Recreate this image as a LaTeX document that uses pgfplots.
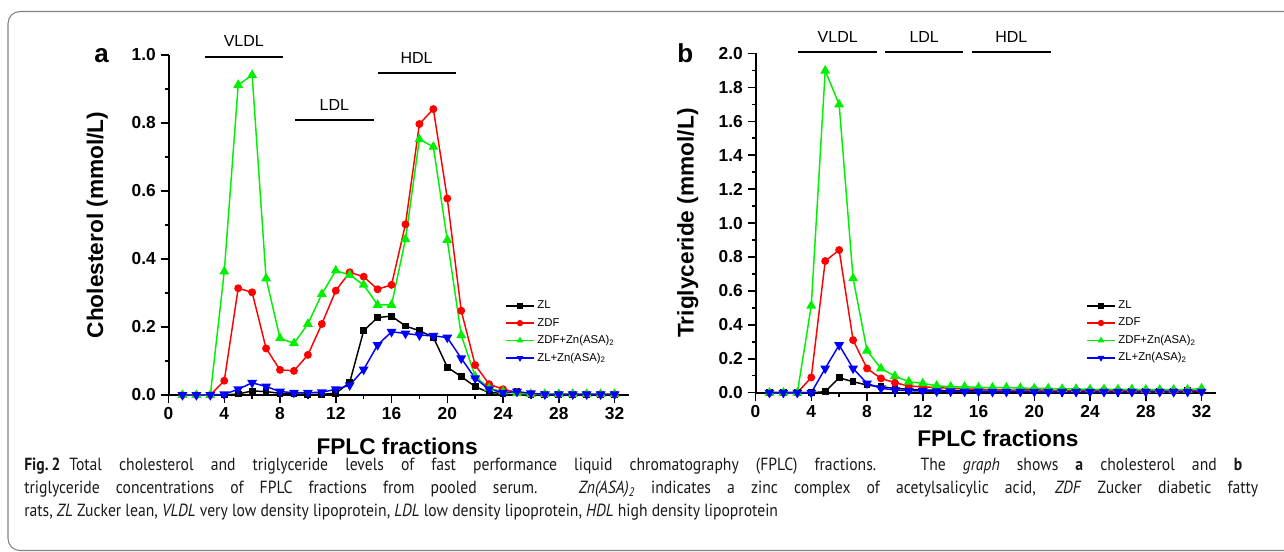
\documentclass[border=0pt]{standalone}
\usepackage{fontspec}
\setmainfont{Liberation Sans}
\newfontfamily\capfont[FakeStretch=0.89]{PT Sans}
\usepackage{pgfplots}
\usepackage{pgfplotstable}
\pgfplotsset{compat=1.18}

\definecolor{cgreen}{RGB}{0,240,0}
\definecolor{cred}{RGB}{255,0,0}
\definecolor{cblue}{RGB}{0,0,255}
\definecolor{framegray}{RGB}{130,130,130}

% cholesterol, fractions 1..32
\pgfplotstableread{
f  zl    zdf   zdfzn zlzn
1  0     0     0     0
2  0     0     0     0
3  0     0     0     0
4  0     0.042 0.363 0.002
5  0.003 0.314 0.912 0.017
6  0.012 0.302 0.941 0.036
7  0.010 0.137 0.343 0.025
8  0.005 0.074 0.167 0.010
9  0.003 0.071 0.152 0.007
10 0.002 0.118 0.209 0.007
11 0.002 0.209 0.297 0.008
12 0.005 0.307 0.366 0.017
13 0.037 0.361 0.353 0.029
14 0.189 0.348 0.324 0.075
15 0.228 0.311 0.265 0.147
16 0.232 0.324 0.265 0.186
17 0.203 0.502 0.458 0.181
18 0.189 0.797 0.752 0.176
19 0.170 0.841 0.730 0.174
20 0.082 0.578 0.456 0.169
21 0.054 0.248 0.176 0.108
22 0.025 0.088 0.055 0.049
23 0.007 0.032 0.020 0.017
24 0.005 0.017 0.010 0.007
25 0.010 0.008 0.005 0.010
26 0.001 0.002 0.003 0.005
27 0.001 0.002 0.003 0.002
28 0.001 0.002 0.003 0.002
29 0.001 0.002 0.003 0.002
30 0.001 0.002 0.003 0.002
31 0.001 0.002 0.003 0.002
32 0.001 0.002 0.003 0.002
}\choltab

% triglyceride, fractions 1..32
\pgfplotstableread{
f  zl    zdf   zdfzn zlzn
1  0     0     0     0
2  0     0     0     0
3  0     0     0     0
4  0     0.090 0.513 0
5  0.006 0.776 1.898 0.143
6  0.088 0.841 1.699 0.281
7  0.065 0.310 0.674 0.143
8  0.045 0.143 0.248 0.055
9  0.035 0.084 0.143 0.026
10 0.026 0.059 0.098 0.016
11 0.020 0.039 0.065 0.012
12 0.016 0.035 0.055 0.010
13 0.014 0.030 0.041 0.008
14 0.012 0.026 0.035 0.008
15 0.012 0.022 0.035 0.007
16 0.010 0.020 0.031 0.007
17 0.010 0.018 0.030 0.006
18 0.010 0.016 0.030 0.006
19 0.010 0.016 0.028 0.006
20 0.010 0.018 0.025 0.006
21 0.010 0.014 0.025 0.005
22 0.010 0.013 0.022 0.005
23 0.010 0.012 0.022 0.005
24 0.010 0.012 0.020 0.005
25 0.010 0.014 0.020 0.005
26 0.010 0.012 0.020 0.005
27 0.010 0.010 0.020 0.005
28 0.010 0.010 0.018 0.005
29 0.010 0.010 0.018 0.005
30 0.010 0.010 0.018 0.005
31 0.012 0.014 0.018 0.006
32 0.010 0.012 0.025 0.006
}\trigtab

\pgfplotsset{
  fplc/.style={
    scale only axis, width=345pt,
    xmin=0, xmax=33, ymin=0,
    axis lines*=left,
    axis line style={line width=1.5pt},
    xtick={0,4,...,32}, minor x tick num=1, minor y tick num=1,
    tick align=outside,
    tick style={line width=1.1pt, black},
    major tick length=6pt, minor tick length=3pt,
    clip=false,
    /pgf/number format/assume math mode=true,
    tick label style={font=\bfseries\fontsize{13}{15}\selectfont},
    yticklabel style={/pgf/number format/fixed,
      /pgf/number format/fixed zerofill, /pgf/number format/precision=1},
    label style={font=\bfseries\fontsize{17}{20}\selectfont, inner sep=0pt},
    every axis plot/.append style={line width=1.1pt},
    legend style={draw=none, fill=none, inner sep=0pt, anchor=west,
      font=\normalfont\fontsize{8.5}{10}\selectfont,
      row sep=1.5pt},
    legend cell align=left,
    legend image code/.code={
      \draw[mark repeat=2,mark phase=2,##1,mark size=1.8pt] plot coordinates
        {(0pt,0pt) (10.5pt,0pt) (21pt,0pt)};},
  },
  zl/.style={black, mark=square*, mark size=2pt},
  zdf/.style={cred, mark=*, mark size=2.4pt},
  zdfzn/.style={cgreen, mark=triangle*, mark size=3.2pt},
  zlzn/.style={cblue, mark=triangle*, mark size=3.2pt, mark options={rotate=180}},
}
\tikzset{
  band/.style={line width=1.5pt},
  bandtext/.style={font=\normalfont\fontsize{12}{14}\selectfont},
}

\begin{document}
\begin{tikzpicture}
\useasboundingbox (0,0) rectangle (963pt,-413.25pt);

% panel a
\begin{axis}[fplc, at={(126.375pt,-296.25pt)}, anchor=south west,
  height=255pt, ymax=1.0,
  ytick={0,0.2,0.4,0.6,0.8,1.0},
  xlabel={FPLC fractions}, ylabel={Cholesterol (mmol/L)},
  xlabel style={at={(axis description cs:0.497,-0.150)}, anchor=center},
  ylabel style={at={(axis description cs:-0.155,0.5)}, anchor=center},
  legend style={at={(axis description cs:0.7315,0.185)}},
]
\addplot[zl] table[x=f, y=zl] {\choltab};
\addlegendentry{ZL}
\addplot[zdf] table[x=f, y=zdf] {\choltab};
\addlegendentry{ZDF}
\addplot[zdfzn] table[x=f, y=zdfzn] {\choltab};
\addlegendentry{ZDF+Zn(ASA)\textsubscript{2}}
\addplot[zlzn] table[x=f, y=zlzn] {\choltab};
\addlegendentry{ZL+Zn(ASA)\textsubscript{2}}
\draw[band] (axis cs:2.6,0.993) -- (axis cs:8.2,0.993);
\node[bandtext] at (axis cs:5.4,1.04) {VLDL};
\draw[band] (axis cs:9.1,0.809) -- (axis cs:14.75,0.809);
\node[bandtext] at (axis cs:11.9,0.853) {LDL};
\draw[band] (axis cs:15.0,0.946) -- (axis cs:20.6,0.946);
\node[bandtext] at (axis cs:17.8,0.99) {HDL};
\end{axis}

% panel b
\begin{axis}[fplc, at={(566.625pt,-294.525pt)}, anchor=south west,
  height=254.5pt, ymax=2.0,
  ytick={0,0.2,0.4,0.6,0.8,1.0,1.2,1.4,1.6,1.8,2.0},
  xlabel={FPLC fractions}, ylabel={Triglyceride (mmol/L)},
  xlabel style={at={(axis description cs:0.527,-0.136)}, anchor=center},
  ylabel style={at={(axis description cs:-0.147,0.5)}, anchor=center},
  legend style={at={(axis description cs:0.7185,0.179)}},
]
\addplot[zl] table[x=f, y=zl] {\trigtab};
\addlegendentry{ZL}
\addplot[zdf] table[x=f, y=zdf] {\trigtab};
\addlegendentry{ZDF}
\addplot[zdfzn] table[x=f, y=zdfzn] {\trigtab};
\addlegendentry{ZDF+Zn(ASA)\textsubscript{2}}
\addplot[zlzn] table[x=f, y=zlzn] {\trigtab};
\addlegendentry{ZL+Zn(ASA)\textsubscript{2}}
\draw[band] (axis cs:3.07,2.006) -- (axis cs:8.7,2.006);
\node[bandtext] at (axis cs:5.9,2.094) {VLDL};
\draw[band] (axis cs:9.3,2.006) -- (axis cs:14.9,2.006);
\node[bandtext] at (axis cs:12.1,2.094) {LDL};
\draw[band] (axis cs:15.5,2.006) -- (axis cs:21.2,2.006);
\node[bandtext] at (axis cs:18.35,2.094) {HDL};
\end{axis}

% panel letters, caption and frame in reference pixel units
\begin{scope}[x=0.75pt, y=-0.75pt]
\draw[framegray, line width=0.8pt, rounded corners=9pt]
  (1300,550.5) -- (8,550.5) -- (8,11.5) -- (1300,11.5);
\node[anchor=base west, inner sep=0pt, font=\bfseries\fontsize{19.5}{22}\selectfont] at (94,62) {a};
\node[anchor=base west, inner sep=0pt, font=\bfseries\fontsize{19.5}{22}\selectfont] at (677,62) {b};
\begin{scope}[every node/.style={anchor=base west, inner sep=0pt,
    font=\capfont\fontsize{13.2}{16}\selectfont, text=black!90}]
\node at (24,470) {\makebox[913.5pt][s]{\textbf{Fig.\,2}\enspace Total cholesterol and triglyceride levels of fast performance liquid chromatography (FPLC) fractions. The \textit{graph} shows \textbf{a} cholesterol and \textbf{b}}};
\node at (24,493) {\makebox[925.5pt][s]{triglyceride concentrations of FPLC fractions from pooled serum. \textit{Zn(ASA)\textsubscript{2}} indicates a zinc complex of acetylsalicylic acid, \textit{ZDF} Zucker diabetic fatty}};
\node at (24,516) {rats, \textit{ZL} Zucker lean, \textit{VLDL} very low density lipoprotein, \textit{LDL} low density lipoprotein, \textit{HDL} high density lipoprotein};
\end{scope}
\end{scope}
\end{tikzpicture}
\end{document}
